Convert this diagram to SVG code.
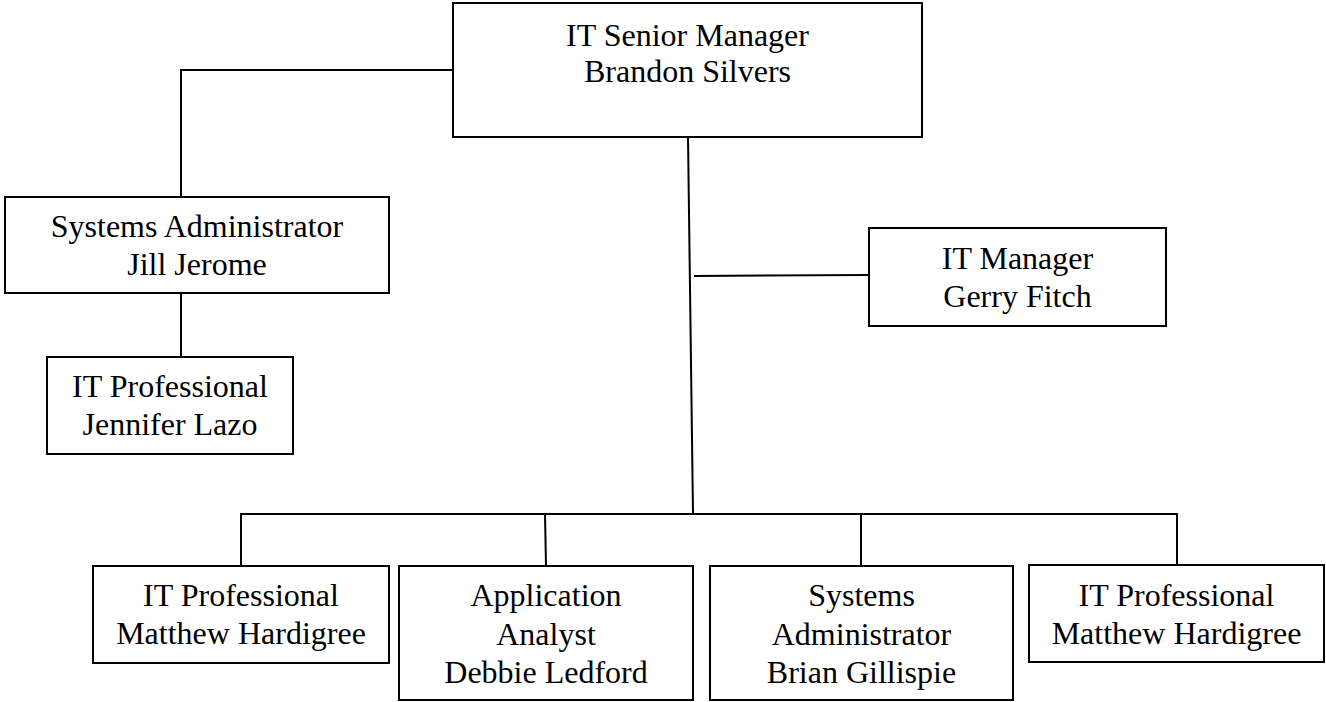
<svg xmlns="http://www.w3.org/2000/svg" width="1326" height="702" viewBox="0 0 1326 702">
<style>
.box{fill:#fff;stroke:#000;stroke-width:2}
.t{font-family:"Liberation Serif","Times New Roman",serif;font-size:32px;fill:#000;text-anchor:middle}
.c{fill:none;stroke:#000;stroke-width:2}
</style>
<rect width="1326" height="702" fill="#fff"/>
<g id="connectors">
<polyline class="c" points="453,70 181,70 181,197"/>
<line class="c" x1="181" y1="293" x2="181" y2="357"/>
<line class="c" x1="688" y1="137" x2="693" y2="514"/>
<line class="c" x1="694" y1="276" x2="869" y2="275"/>
<line class="c" x1="240" y1="514" x2="1178" y2="514"/>
<line class="c" x1="241" y1="514" x2="241" y2="566"/>
<line class="c" x1="545" y1="514" x2="546" y2="566"/>
<line class="c" x1="861" y1="514" x2="861" y2="566"/>
<line class="c" x1="1177" y1="514" x2="1177" y2="565"/>
</g>
<g id="senior-manager">
<rect class="box" x="453" y="3" width="469" height="134"/>
<text class="t" x="687.5" y="46">IT Senior Manager</text>
<text class="t" x="687.5" y="82">Brandon Silvers</text>
</g>
<g id="sysadmin-jill">
<rect class="box" x="5" y="197" width="384" height="96"/>
<text class="t" x="197" y="237">Systems Administrator</text>
<text class="t" x="197" y="275">Jill Jerome</text>
</g>
<g id="itpro-jennifer">
<rect class="box" x="47" y="357" width="246" height="97"/>
<text class="t" x="170" y="397">IT Professional</text>
<text class="t" x="170" y="435">Jennifer Lazo</text>
</g>
<g id="itmanager-gerry">
<rect class="box" x="869" y="228" width="297" height="98"/>
<text class="t" x="1017.5" y="269">IT Manager</text>
<text class="t" x="1017.5" y="307">Gerry Fitch</text>
</g>
<g id="itpro-matthew-1">
<rect class="box" x="93" y="566" width="296" height="97"/>
<text class="t" x="241" y="606">IT Professional</text>
<text class="t" x="241" y="644">Matthew Hardigree</text>
</g>
<g id="analyst-debbie">
<rect class="box" x="399" y="566" width="294" height="134"/>
<text class="t" x="546" y="606">Application</text>
<text class="t" x="546" y="645">Analyst</text>
<text class="t" x="546" y="683">Debbie Ledford</text>
</g>
<g id="sysadmin-brian">
<rect class="box" x="710" y="566" width="303" height="134"/>
<text class="t" x="861.5" y="606">Systems</text>
<text class="t" x="861.5" y="645">Administrator</text>
<text class="t" x="861.5" y="683">Brian Gillispie</text>
</g>
<g id="itpro-matthew-2">
<rect class="box" x="1029" y="565" width="295" height="97"/>
<text class="t" x="1176.5" y="606">IT Professional</text>
<text class="t" x="1176.5" y="644">Matthew Hardigree</text>
</g>
</svg>
